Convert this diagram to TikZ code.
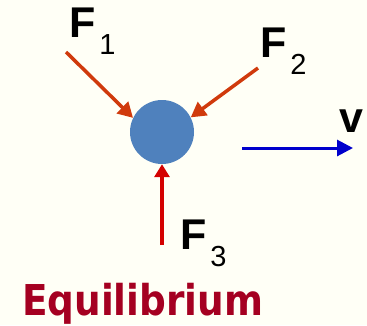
\documentclass[tikz,border=0pt]{standalone}
\usepackage{fontspec}
\setmainfont{Liberation Sans}
\newfontfamily\eqfont[FakeStretch=0.88]{DejaVu Sans}
\usetikzlibrary{arrows.meta,positioning}
\definecolor{bgcream}{RGB}{255,255,246}
\definecolor{forg}{RGB}{208,58,12}
\definecolor{fred}{RGB}{212,0,0}
\definecolor{vblue}{RGB}{0,0,204}
\definecolor{ballblue}{RGB}{79,129,189}
\definecolor{eqred}{RGB}{165,0,33}
\newcommand{\fsub}[1]{\hspace{4pt}\raisebox{-17pt}{\fontsize{29}{29}\selectfont\mdseries #1}}
\tikzset{
  farr/.style={-{Triangle[length=15pt,width=16pt]}, line width=3.5pt, forg},
  uparr/.style={-{Triangle[length=13pt,width=15pt]}, line width=3.5pt, fred},
  varr/.style={-{Triangle[length=16pt,width=16pt]}, line width=3pt, vblue},
  ball/.style={circle, fill=ballblue, minimum size=64pt, inner sep=0pt},
  flab/.style={font=\fontsize{43}{43}\selectfont\bfseries, inner sep=0pt, anchor=base west},
  ttl/.style={font=\eqfont\fontsize{42.5}{42.5}\selectfont\bfseries, text=eqred,
              inner sep=0pt, anchor=base west},
}

\begin{document}
\begin{tikzpicture}[x=1pt, y=-1pt]
    \useasboundingbox (0,0) rectangle (367,325);
    \fill[bgcream] (0,0) rectangle (367,325);
    \node[ball] (body) at (162,132) {};
    \coordinate (t1) at (66,52);
    \coordinate (t2) at (258,68);
    \coordinate (t3) at (162,245);
    \coordinate (vtail) at (242,148);
    \coordinate (vtip) at (353,148);
    \draw[farr] (t1) -- (body.154);
    \draw[farr] (t2) -- (body.27);
    \draw[uparr] (t3) -- (body.south);
    \draw[varr] (vtail) -- (vtip);
    \node[flab] (f1) at (69,37) {F\fsub{1}};
    \node[flab] (f2) at (260,57) {F\fsub{2}};
    \node[flab] (f3) at (180,249) {F\fsub{3}};
    \node[flab] (vlab) at (339,132) {v};
    \node[ttl] (eq) at (22,315) {Equilibrium};
  \end{tikzpicture}
\end{document}
